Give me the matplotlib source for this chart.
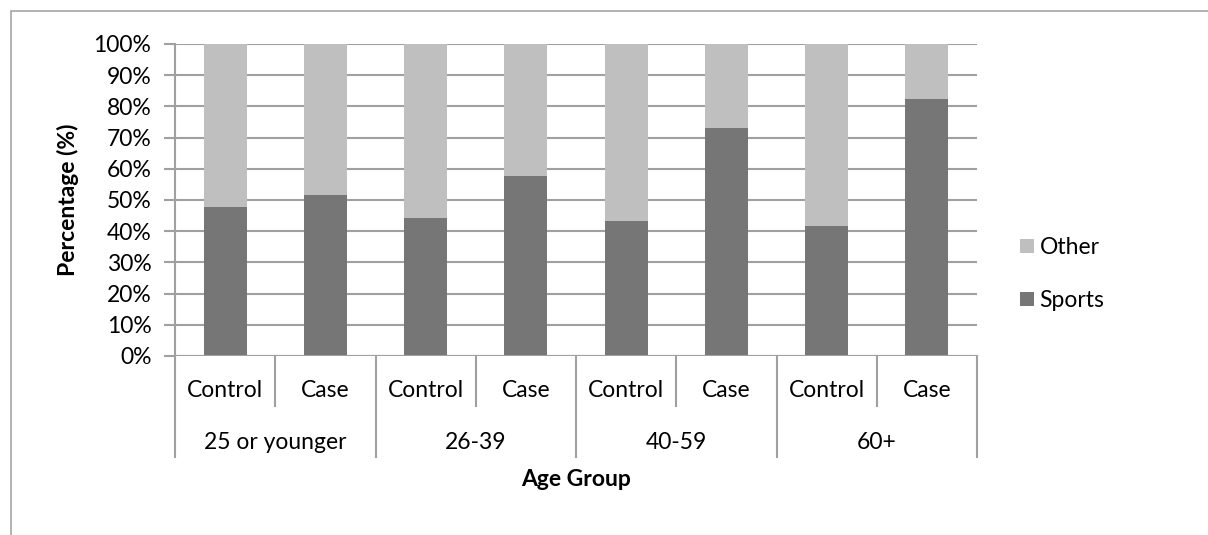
import numpy as np
import matplotlib.pyplot as plt
from matplotlib.patches import Rectangle

plt.rcParams['font.family'] = ['Lato', 'DejaVu Sans']

groups = ['25 or younger', '26-39', '40-59', '60+']
subgroups = ['Control', 'Case']
sports = [47.9, 51.5, 44.2, 57.8, 43.2, 73.2, 41.7, 82.3]
other = [100 - s for s in sports]

fs = 16.5

fig = plt.figure(figsize=(12.08, 5.35), dpi=100)
ax = fig.add_axes([0.1449, 0.3346, 0.6639, 0.5832])

# outer chart-area frame (cut at right/bottom like the reference)
fig.patches.append(Rectangle((11 / 1208, -0.1), 1.2, 1 - 11 / 535 + 0.1,
                             transform=fig.transFigure, fill=False,
                             edgecolor='#a6a6a6', lw=1.2))

ind = np.arange(len(sports))
width = 0.43
p1 = ax.bar(ind, sports, width, color='#767676', zorder=3)
p2 = ax.bar(ind, other, width, bottom=sports, color='#bfbfbf', zorder=3)

ax.set_xlim(-0.5, len(sports) - 0.5)
ax.set_ylim(0, 100)
ax.set_yticks(np.arange(0, 101, 10))
ax.set_yticklabels(['%d%%' % v for v in range(0, 101, 10)], fontsize=fs)
ax.yaxis.grid(True, color='#a0a0a0', lw=1.5, zorder=0)
ax.tick_params(axis='y', length=8, width=1.5, color='#a0a0a0', pad=9)
ax.set_xticks([])
for s in ['top', 'right', 'bottom']:
    ax.spines[s].set_visible(False)
ax.spines['left'].set_color('#a0a0a0')
ax.spines['left'].set_linewidth(1.5)
ax.axhline(0, color='#a0a0a0', lw=1.5, zorder=4)

# two-level category axis
trans = ax.get_xaxis_transform()
for i in range(len(sports)):
    ax.text(i, -0.112, subgroups[i % 2], transform=trans, ha='center', va='center', fontsize=fs)
for g, name in enumerate(groups):
    ax.text(2 * g + 0.5, -0.276, name, transform=trans, ha='center', va='center', fontsize=fs)
for b in np.arange(-0.5, len(sports), 1.0):
    k = int(b + 0.5)
    bottom = -0.324 if k % 2 == 0 else -0.160
    ax.plot([b, b], [0, bottom], transform=trans, color='#a0a0a0', lw=1.5, clip_on=False)

ax.text(0.5, -0.397, 'Age Group', transform=ax.transAxes, ha='center', va='center',
        fontsize=fs, fontweight='bold')
fig.text(68 / 1208, 1 - 200 / 535, 'Percentage (%)', rotation=90, ha='center', va='center',
         fontsize=fs, fontweight='bold')

fig.legend((p2[0], p1[0]), ('Other', 'Sports'), loc='center left',
           bbox_to_anchor=(1020 / 1208, 1 - 274 / 535), frameon=False, fontsize=fs,
           borderpad=0, borderaxespad=0,
           handlelength=0.6, handleheight=0.6, handletextpad=0.25, labelspacing=1.4)

fig.savefig('out.png', dpi=100)
